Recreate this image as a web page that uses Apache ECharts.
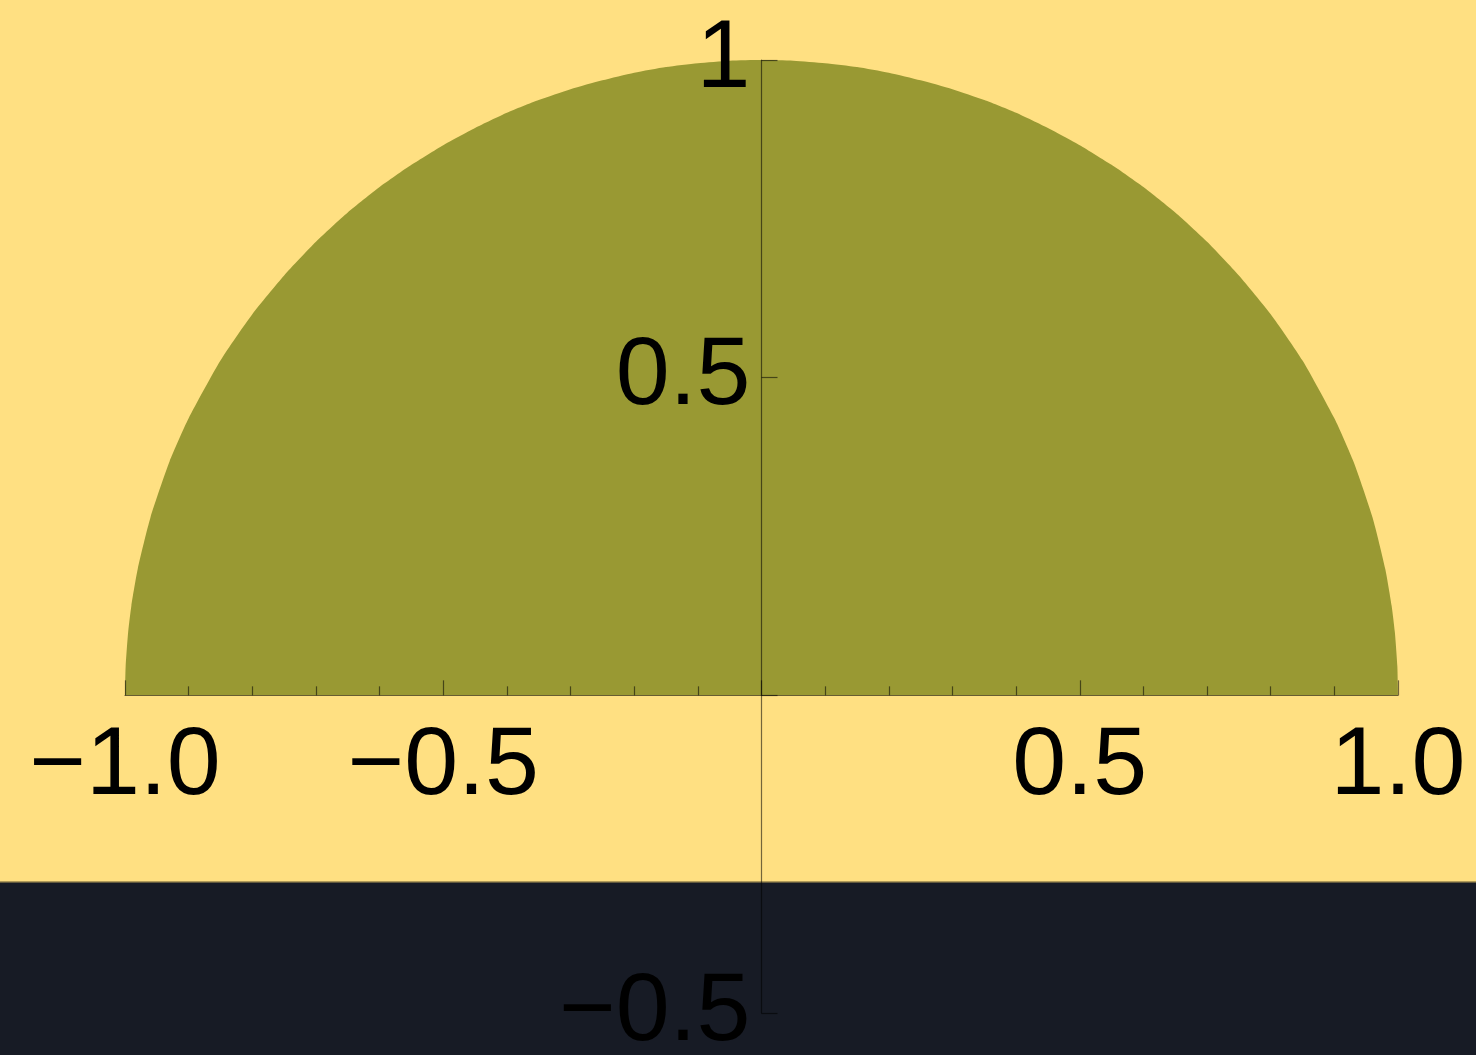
<!DOCTYPE html>
<html>
<head>
<meta charset="utf-8">
<script src="https://cdn.jsdelivr.net/npm/echarts@6/dist/echarts.min.js"></script>
<style>
  html, body { margin: 0; padding: 0; }
  #chart { width: 1476px; height: 1055px; }
</style>
</head>
<body>
<div id="chart"></div>
<script>
// 半圆边界上读出的点
const xValues = [
  -1, -0.999, -0.995, -0.99, -0.98, -0.96, -0.93, -0.9, -0.85, -0.8, -0.75, -0.7,
  -0.65, -0.6, -0.55, -0.5, -0.45, -0.4, -0.35, -0.3, -0.25, -0.2, -0.15, -0.1, -0.05,
  0,
  0.05, 0.1, 0.15, 0.2, 0.25, 0.3, 0.35, 0.4, 0.45, 0.5, 0.55, 0.6, 0.65,
  0.7, 0.75, 0.8, 0.85, 0.9, 0.93, 0.96, 0.98, 0.99, 0.995, 0.999, 1
]
const yValues = [
  0, 0.045, 0.1, 0.141, 0.199, 0.28, 0.368, 0.436, 0.527, 0.6, 0.661, 0.714,
  0.76, 0.8, 0.835, 0.866, 0.893, 0.917, 0.937, 0.954, 0.968, 0.98, 0.989, 0.995, 0.999,
  1,
  0.999, 0.995, 0.989, 0.98, 0.968, 0.954, 0.937, 0.917, 0.893, 0.866, 0.835, 0.8, 0.76,
  0.714, 0.661, 0.6, 0.527, 0.436, 0.368, 0.28, 0.199, 0.141, 0.1, 0.045, 0
]

const xTickValues = [-1, -0.5, 0.5, 1]
const xTickLabels = ['\u22121.0', '\u22120.5', '0.5', '1.0']
const yTickValues = [-0.5, 0.5, 1]
const yTickLabels = ['\u22120.5', '0.5', '1']

const X_MIN = -1, X_MAX = 1, Y_MIN = -0.5, Y_MAX = 1

const labelFor = (values, labels) => (v) => {
  const i = values.findIndex(t => Math.abs(t - v) < 1e-9)
  return i < 0 ? '' : labels[i]
}

const W = 1476, H = 1055
const grid = { left: 125, right: 78, top: 60, bottom: 42 }
const gridW = W - grid.left - grid.right
const gridH = H - grid.top - grid.bottom
// 坐标轴交于原点
const xAxisOffset = -gridH * (0 - Y_MIN) / (Y_MAX - Y_MIN)
const yAxisOffset = -gridW * (0 - X_MIN) / (X_MAX - X_MIN)

const axisColor = 'rgba(0,0,0,0.55)'
const labelStyle = {
  color: '#000',
  fontFamily: 'Liberation Sans, Arial, sans-serif',
  fontSize: 97
}

const chart = echarts.init(document.getElementById('chart'))

chart.setOption({
  backgroundColor: '#171b25',
  animation: false,
  graphic: [
    {
      type: 'rect',
      z: -10,
      silent: true,
      shape: { x: 0, y: 0, width: W, height: 881 },
      style: { fill: '#ffe082' }
    },
    {
      type: 'rect',
      z: -10,
      silent: true,
      shape: { x: 0, y: 881, width: W, height: 1.5 },
      style: { fill: '#b09a58' }
    }
  ],
  grid: { ...grid, containLabel: false, outerBoundsMode: 'none' },
  xAxis: {
    type: 'value',
    position: 'bottom',
    offset: xAxisOffset,
    z: 5,
    min: X_MIN,
    max: X_MAX,
    interval: 0.5,
    splitLine: { show: false },
    axisLine: { onZero: false, lineStyle: { color: axisColor, width: 1.2 } },
    axisTick: { show: true, inside: true, length: 15, lineStyle: { color: axisColor, width: 1.2 } },
    minorTick: { show: true, splitNumber: 5, length: 9, lineStyle: { color: axisColor, width: 1.2 } },
    axisLabel: { ...labelStyle, margin: 23, hideOverlap: false, formatter: labelFor(xTickValues, xTickLabels) }
  },
  yAxis: {
    type: 'value',
    position: 'left',
    offset: yAxisOffset,
    z: 5,
    min: Y_MIN,
    max: Y_MAX,
    interval: 0.5,
    splitLine: { show: false },
    axisLine: { onZero: false, lineStyle: { color: axisColor, width: 1.2 } },
    axisTick: { show: true, inside: true, length: 16, lineStyle: { color: axisColor, width: 1.2 } },
    axisLabel: { ...labelStyle, margin: 11, padding: [10, 0, 0, 0], hideOverlap: false, formatter: labelFor(yTickValues, yTickLabels) }
  },
  series: [
    {
      type: 'line',
      data: xValues.map((x, i) => [x, yValues[i]]),
      showSymbol: false,
      smooth: 0.2,
      lineStyle: { width: 0 },
      areaStyle: { color: '#999933', opacity: 1, origin: 0 },
      z: -5
    }
  ]
})
</script>
</body>
</html>
